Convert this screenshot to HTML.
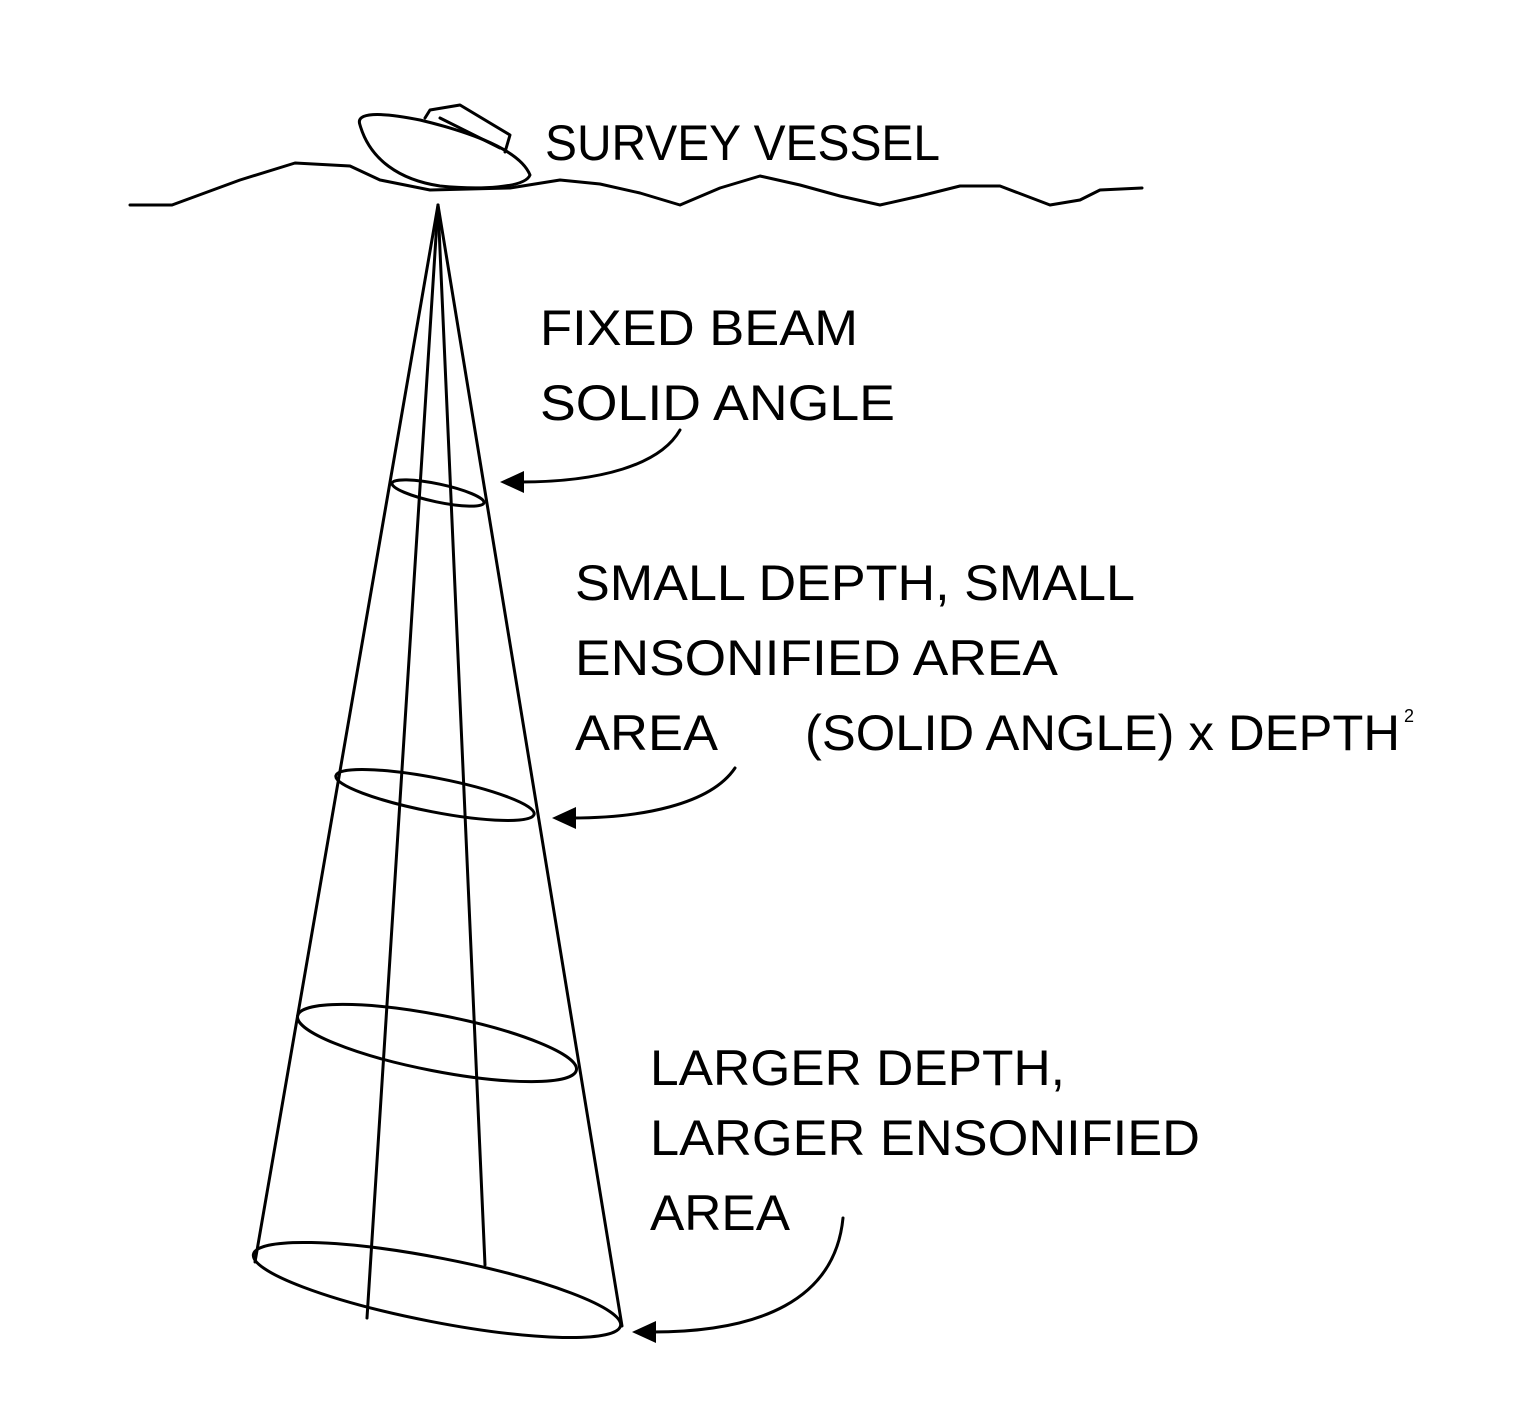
<!DOCTYPE html>
<html>
<head>
<meta charset="utf-8">
<style>
  html,body{margin:0;padding:0;background:#fff;}
  svg{display:block;}
  text{font-family:"Liberation Sans",sans-serif;font-size:50px;fill:#000;}
</style>
</head>
<body>
<svg width="1514" height="1422" viewBox="0 0 1514 1422">
  <g fill="none" stroke="#000" stroke-width="3" stroke-linejoin="round" stroke-linecap="round">
    <polyline
      points="130,205 172,205 240,180 295,163 350,166 380,180 430,190 510,188 560,180 600,184 640,193 680,205 720,188 760,176 800,185 840,196 880,205 920,196 960,186 1000,186 1050,205 1080,200 1100,190 1142,188"/>
    <g>
      <path d="M360,125 C355,112 380,112 420,120 C470,132 520,150 530,175 C525,188 480,190 440,186 C400,180 370,160 360,125 Z"/>
      <polyline points="425,118 430,110 460,105 510,135 505,152"/>
      <line x1="440" y1="118" x2="500" y2="148"/>
    </g>
    <g>
      <line x1="438" y1="205" x2="255" y2="1262"/>
      <line x1="438" y1="205" x2="367" y2="1318"/>
      <line x1="438" y1="205" x2="485" y2="1265"/>
      <line x1="438" y1="205" x2="622" y2="1326"/>
    </g>
    <ellipse cx="438" cy="493" rx="47" ry="9" transform="rotate(12 438 493)"/>
    <ellipse cx="435" cy="795" rx="101" ry="17" transform="rotate(11 435 795)"/>
    <ellipse cx="437" cy="1043" rx="142" ry="28" transform="rotate(11 437 1043)"/>
    <ellipse cx="437" cy="1290" rx="187" ry="32" transform="rotate(11 437 1290)"/>
    <path d="M680,430 C660,465 600,482 520,482"/>
    <path d="M735,768 C710,805 640,818 572,818"/>
    <path d="M843,1218 C835,1300 760,1332 652,1332"/>
  </g>
  <g fill="#000">
    <polygon points="500,482 524,471 524,493"/>
    <polygon points="552,818 576,807 576,829"/>
    <polygon points="632,1332 656,1321 656,1343"/>
  </g>
  <text x="545" y="160" textLength="395" lengthAdjust="spacingAndGlyphs">SURVEY VESSEL</text>
  <text x="540" y="345" textLength="318" lengthAdjust="spacingAndGlyphs">FIXED BEAM</text>
  <text x="540" y="420" textLength="355" lengthAdjust="spacingAndGlyphs">SOLID ANGLE</text>
  <text x="575" y="600" textLength="560" lengthAdjust="spacingAndGlyphs">SMALL DEPTH, SMALL</text>
  <text x="575" y="675" textLength="483" lengthAdjust="spacingAndGlyphs">ENSONIFIED AREA</text>
  <text x="575" y="750" textLength="143" lengthAdjust="spacingAndGlyphs">AREA</text>
  <text x="805" y="750" textLength="595" lengthAdjust="spacingAndGlyphs">(SOLID ANGLE) x DEPTH</text>
  <text x="1404" y="722" style="font-size:18px">2</text>
  <text x="650" y="1085" textLength="415" lengthAdjust="spacingAndGlyphs">LARGER DEPTH,</text>
  <text x="650" y="1155" textLength="550" lengthAdjust="spacingAndGlyphs">LARGER ENSONIFIED</text>
  <text x="650" y="1230" textLength="140" lengthAdjust="spacingAndGlyphs">AREA</text>
</svg>
</body>
</html>
